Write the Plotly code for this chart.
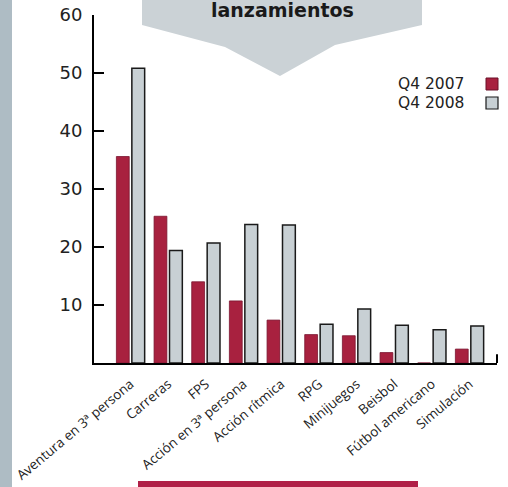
import plotly.graph_objects as go

categories = ["Aventura en 3ª persona", "Carreras", "FPS", "Acción en 3ª persona",
              "Acción rítmica", "RPG", "Minijuegos", "Beisbol", "Fútbol americano", "Simulación"]
q4_2007 = [35.6, 25.3, 14.0, 10.7, 7.4, 4.9, 4.7, 1.8, 0, 2.4]
q4_2008 = [50.8, 19.4, 20.7, 23.9, 23.8, 6.7, 9.3, 6.5, 5.75, 6.4]
y_ticks = [10, 20, 30, 40, 50, 60]
series_names = ["Q4 2007", "Q4 2008"]
title_text = "lanzamientos"

RED = "#a8213f"
GRAY = "#c8d0d4"

W, H = 508, 487
L, R, T, B = 94, 11, 15, 124
PW, PH = W - L - R, H - T - B


def px(x):
    return (x - L) / PW


def py(y):
    return (H - B - y) / PH


fig = go.Figure()
fig.add_trace(go.Bar(x=categories, y=q4_2007, name=series_names[0],
                     marker=dict(color=RED, line=dict(color="#7a1530", width=0.8))))
fig.add_trace(go.Bar(x=categories, y=q4_2008, name=series_names[1],
                     marker=dict(color=GRAY, line=dict(color="#1a1a1a", width=1.5))))

shapes = []
# left grey strip
shapes.append(dict(type="rect", xref="paper", yref="paper", x0=px(-2), x1=px(12),
                   y0=py(H + 2), y1=py(-2), fillcolor="#aebcc4", line=dict(width=0), layer="below"))
# banner
pts = [(142, -3), (422, -3), (422, 25), (335, 45), (280, 76), (225, 47), (142, 25)]
path = "M " + " L ".join(f"{px(a):.4f},{py(b):.4f}" for a, b in pts) + " Z"
shapes.append(dict(type="path", xref="paper", yref="paper", path=path,
                   fillcolor="#cbd2d6", line=dict(width=0), layer="below"))
# bottom red bar
shapes.append(dict(type="rect", xref="paper", yref="paper", x0=px(138), x1=px(418),
                   y0=py(H + 2), y1=py(481), fillcolor="#b02048", line=dict(width=0)))
# end tick of x axis
shapes.append(dict(type="line", xref="x domain", yref="y domain", x0=1, x1=1, y0=0, y1=0.025,
                   line=dict(color="black", width=2)))
# legend swatches
shapes.append(dict(type="rect", xref="paper", yref="paper", x0=px(486), x1=px(498),
                   y0=py(90), y1=py(78), fillcolor=RED, line=dict(color="#6a1028", width=1)))
shapes.append(dict(type="rect", xref="paper", yref="paper", x0=px(486), x1=px(498),
                   y0=py(109), y1=py(97), fillcolor=GRAY, line=dict(color="#1a1a1a", width=1.2)))

annotations = [
    dict(text=f"<b>{title_text}</b>", xref="paper", yref="paper", x=px(282), y=py(-3),
         xanchor="center", yanchor="top", showarrow=False,
         font=dict(family="DejaVu Sans", size=19, color="#1a1a1a")),
    dict(text=series_names[0], xref="paper", yref="paper", x=px(466), y=py(84),
         xanchor="right", yanchor="middle", showarrow=False,
         font=dict(family="DejaVu Sans", size=15.5, color="#222")),
    dict(text=series_names[1], xref="paper", yref="paper", x=px(466), y=py(103),
         xanchor="right", yanchor="middle", showarrow=False,
         font=dict(family="DejaVu Sans", size=15.5, color="#222")),
]

fig.update_layout(
    width=W, height=H,
    margin=dict(l=L, r=R, t=T, b=B, autoexpand=False),
    paper_bgcolor="white", plot_bgcolor="rgba(0,0,0,0)",
    barmode="group", bargap=0.18, bargroupgap=0.17,
    showlegend=False,
    shapes=shapes, annotations=annotations,
    xaxis=dict(range=[-0.97, 9.73], showline=True, linecolor="black", linewidth=2,
               ticks="", tickangle=-40, showgrid=False, zeroline=False, ticklabelstandoff=6,
               automargin=False,
               tickfont=dict(family="Open Sans", size=13.5, color="#222")),
    yaxis=dict(range=[0, 60], tickvals=y_ticks, showline=True, linecolor="black", linewidth=2,
               ticks="inside", ticklen=10, tickwidth=2, tickcolor="black",
               showgrid=False, zeroline=False, ticklabelstandoff=6, automargin=False,
               tickfont=dict(family="DejaVu Sans", size=18, color="#222")),
)

fig.write_html("out.html", config={"displayModeBar": False},
               post_script="document.body.style.margin='0';document.body.style.padding='0';"
                           "document.documentElement.style.overflow='hidden';")
